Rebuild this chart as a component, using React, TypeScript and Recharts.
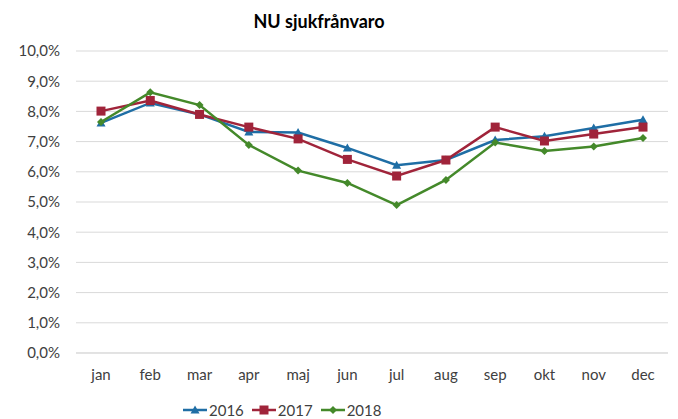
import { LineChart, Line, XAxis, YAxis, CartesianGrid } from "recharts";

const MONTHS = ["jan", "feb", "mar", "apr", "maj", "jun", "jul", "aug", "sep", "okt", "nov", "dec"];
const SERIES_2016 = [7.62, 8.28, 7.9, 7.32, 7.3, 6.79, 6.22, 6.39, 7.05, 7.18, 7.45, 7.72];
const SERIES_2017 = [8.01, 8.36, 7.9, 7.48, 7.09, 6.41, 5.86, 6.39, 7.48, 7.02, 7.25, 7.48];
const SERIES_2018 = [7.65, 8.63, 8.21, 6.89, 6.04, 5.63, 4.9, 5.73, 6.97, 6.69, 6.84, 7.12];
const Y_TICKS = [0, 1, 2, 3, 4, 5, 6, 7, 8, 9, 10];

const COLOR_2016 = "#1f6ea5";
const COLOR_2017 = "#a0243a";
const COLOR_2018 = "#44892a";
const FONT = "Lato, 'Open Sans', sans-serif";

const data = MONTHS.map((month, i) => ({
  month,
  y2016: SERIES_2016[i],
  y2017: SERIES_2017[i],
  y2018: SERIES_2018[i],
}));

type DotProps = { cx?: number; cy?: number };

const TriangleDot = ({ cx, cy }: DotProps) => {
  if (cx === undefined || cy === undefined) return null;
  return <path d={`M${cx},${cy - 4.5} L${cx + 4.5},${cy + 3.5} L${cx - 4.5},${cy + 3.5} Z`} fill={COLOR_2016} />;
};

const SquareDot = ({ cx, cy }: DotProps) => {
  if (cx === undefined || cy === undefined) return null;
  return <rect x={cx - 4.5} y={cy - 4.5} width={9} height={9} fill={COLOR_2017} />;
};

const DiamondDot = ({ cx, cy }: DotProps) => {
  if (cx === undefined || cy === undefined) return null;
  return <path d={`M${cx},${cy - 4} L${cx + 4},${cy} L${cx},${cy + 4} L${cx - 4},${cy} Z`} fill={COLOR_2018} />;
};

const formatPercent = (v: number) => `${v.toFixed(1).replace(".", ",")}%`;

function LegendItem({ label, color, marker }: { label: string; color: string; marker: "tri" | "sq" | "dia" }) {
  return (
    <div style={{ display: "flex", alignItems: "center", gap: 2 }}>
      <svg width={24} height={12}>
        <line x1={0} y1={6} x2={24} y2={6} stroke={color} strokeWidth={2.5} />
        {marker === "tri" && <path d="M12,1.5 L16.5,9.5 L7.5,9.5 Z" fill={color} />}
        {marker === "sq" && <rect x={7.5} y={1.5} width={9} height={9} fill={color} />}
        {marker === "dia" && <path d="M12,2 L16,6 L12,10 L8,6 Z" fill={color} />}
      </svg>
      <span style={{ fontSize: 15, color: "#404040" }}>{label}</span>
    </div>
  );
}

export default function App() {
  return (
    <div
      style={{
        position: "absolute",
        left: 0,
        top: 0,
        width: 678,
        height: 419,
        background: "#fff",
        fontFamily: FONT,
      }}
    >
      <div
        style={{
          position: "absolute",
          top: 10,
          left: 0,
          width: 638,
          textAlign: "center",
          fontSize: 18,
          fontWeight: 700,
          color: "#000",
        }}
      >
        NU sjukfrånvaro
      </div>
      <LineChart
        width={678}
        height={419}
        data={data}
        margin={{ top: 51, right: 10, left: 16, bottom: 36 }}
      >
        <CartesianGrid vertical={false} stroke="#d9d9d9" strokeWidth={1} />
        <XAxis
          dataKey="month"
          axisLine={{ stroke: "#d9d9d9" }}
          tickLine={false}
          tickSize={0}
          tickMargin={16}
          height={30}
          interval={0}
          padding={{ left: 25, right: 25 }}
          tick={{ fill: "#404040", fontSize: 15, fontFamily: FONT }}
        />
        <YAxis
          domain={[0, 10]}
          ticks={Y_TICKS}
          width={60}
          axisLine={false}
          tickLine={false}
          tickSize={0}
          tickMargin={16}
          tickFormatter={formatPercent}
          tick={{ fill: "#404040", fontSize: 15, fontFamily: FONT }}
        />
        <Line
          type="linear"
          dataKey="y2016"
          stroke={COLOR_2016}
          strokeWidth={2.5}
          dot={<TriangleDot />}
          isAnimationActive={false}
        />
        <Line
          type="linear"
          dataKey="y2017"
          stroke={COLOR_2017}
          strokeWidth={2.5}
          dot={<SquareDot />}
          isAnimationActive={false}
        />
        <Line
          type="linear"
          dataKey="y2018"
          stroke={COLOR_2018}
          strokeWidth={2.5}
          dot={<DiamondDot />}
          isAnimationActive={false}
        />
      </LineChart>
      <div
        style={{
          position: "absolute",
          top: 401,
          left: 183,
          display: "flex",
          gap: 8,
        }}
      >
        <LegendItem label="2016" color={COLOR_2016} marker="tri" />
        <LegendItem label="2017" color={COLOR_2017} marker="sq" />
        <LegendItem label="2018" color={COLOR_2018} marker="dia" />
      </div>
    </div>
  );
}
